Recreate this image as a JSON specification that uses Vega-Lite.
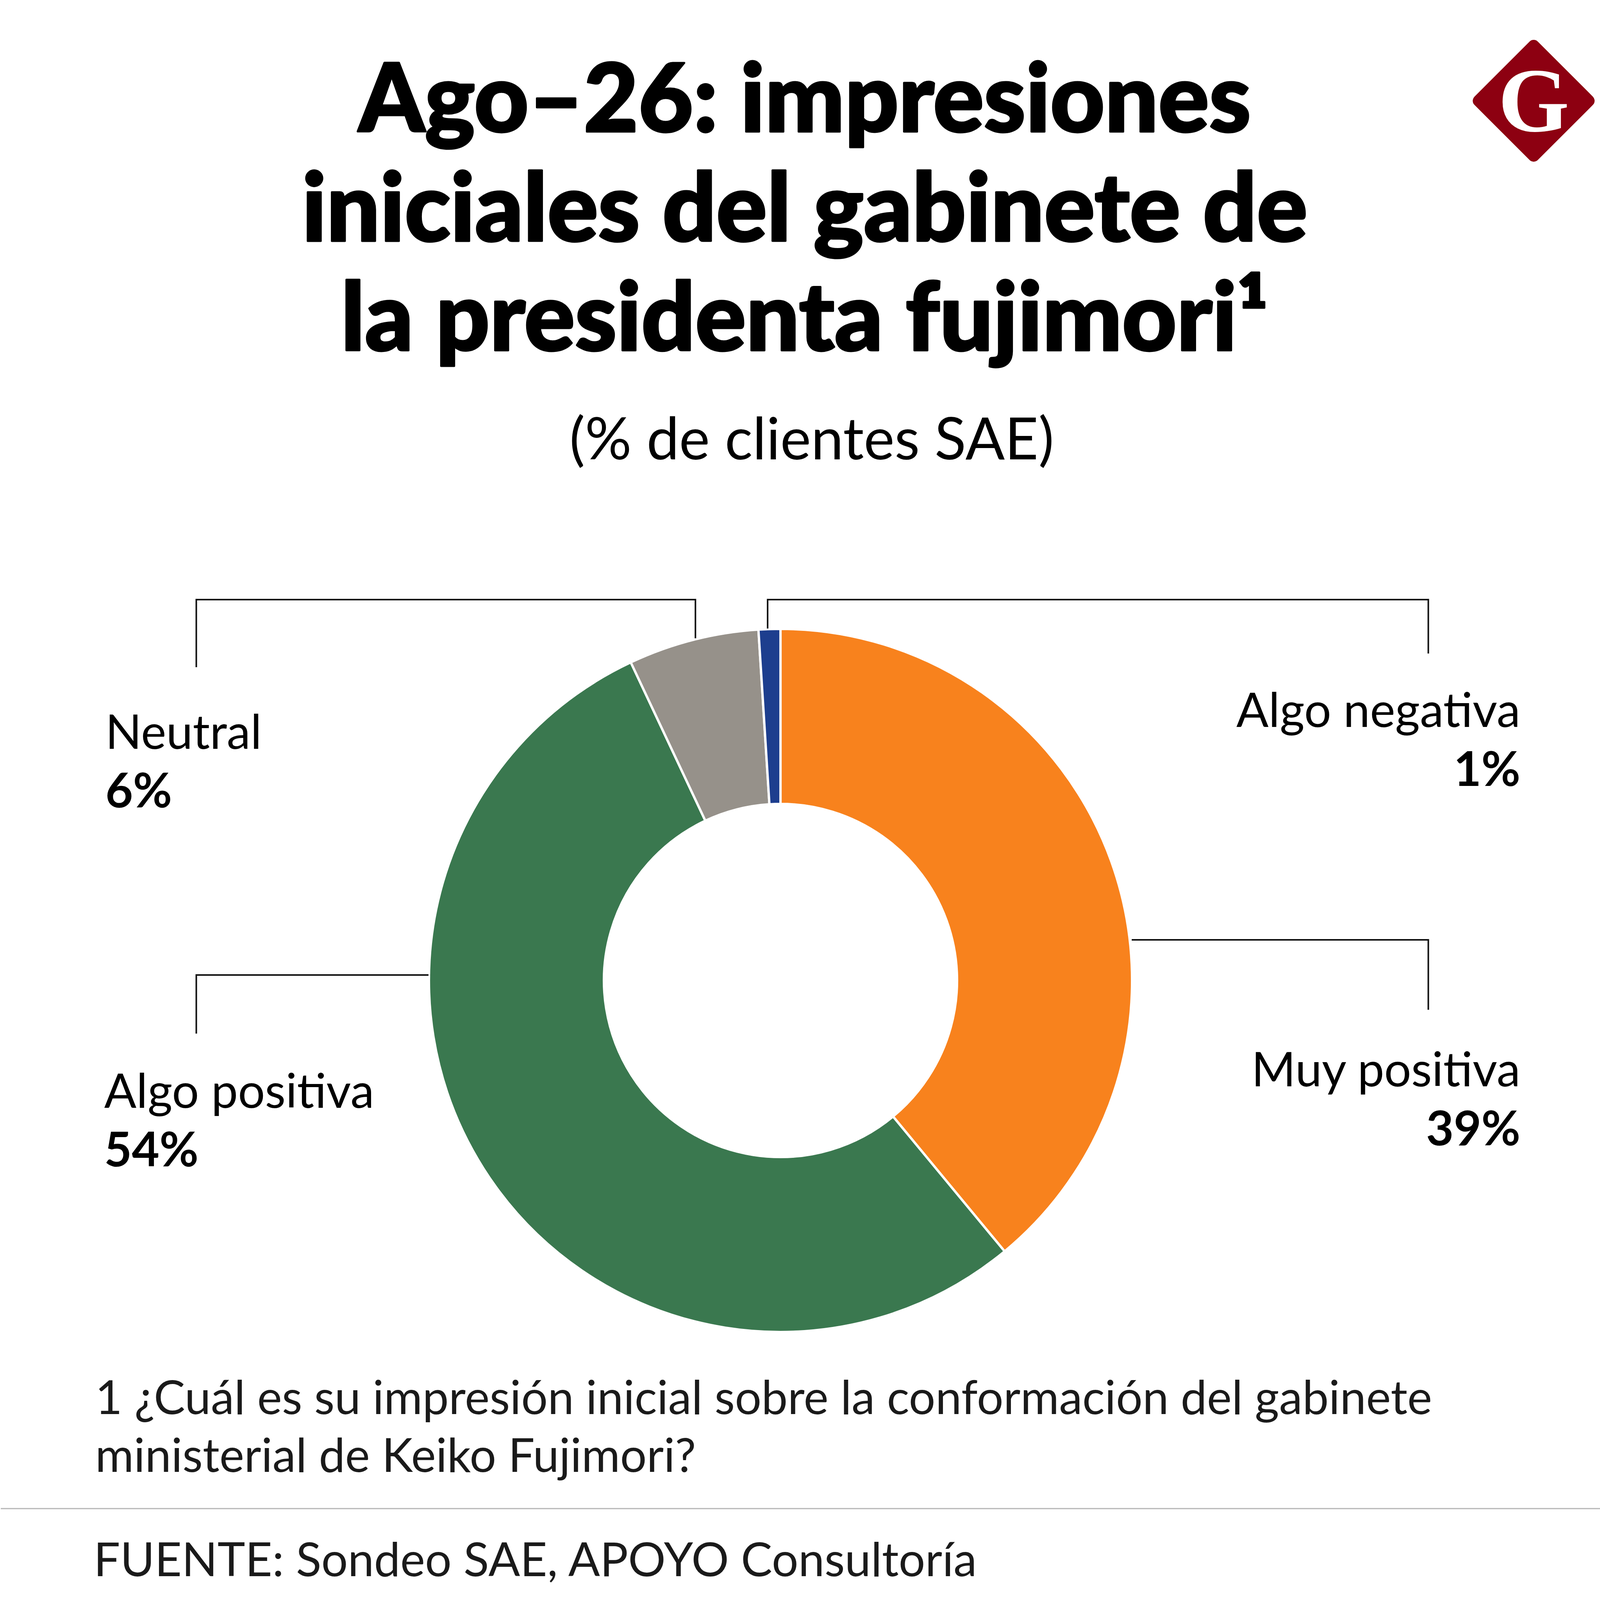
{
  "$schema": "https://vega.github.io/schema/vega-lite/v6.json",
  "width": 4150,
  "height": 4732,
  "padding": 0,
  "autosize": {"type": "fit", "contains": "padding"},
  "background": "white",
  "config": {"view": {"stroke": null}},
  "datasets": {
    "respuestas": [
      {"respuesta": "Muy positiva", "valor": 0.39, "orden": 1},
      {"respuesta": "Algo positiva", "valor": 0.54, "orden": 2},
      {"respuesta": "Neutral", "valor": 0.06, "orden": 3},
      {"respuesta": "Algo negativa", "valor": 0.01, "orden": 4}
    ],
    "etiquetas": [
      {"respuesta": "Neutral", "lado": "izquierda", "x": 268, "y": 1917},
      {"respuesta": "Algo positiva", "lado": "izquierda", "x": 265, "y": 2836},
      {"respuesta": "Algo negativa", "lado": "derecha", "x": 3894, "y": 1861},
      {"respuesta": "Muy positiva", "lado": "derecha", "x": 3894, "y": 2781}
    ],
    "guias": [
      {"respuesta": "Neutral", "paso": 1, "x": 501, "y": 1708},
      {"respuesta": "Neutral", "paso": 2, "x": 501, "y": 1535},
      {"respuesta": "Neutral", "paso": 3, "x": 1780, "y": 1535},
      {"respuesta": "Neutral", "paso": 4, "x": 1780, "y": 1634},
      {"respuesta": "Algo negativa", "paso": 1, "x": 1965, "y": 1609},
      {"respuesta": "Algo negativa", "paso": 2, "x": 1965, "y": 1535},
      {"respuesta": "Algo negativa", "paso": 3, "x": 3658, "y": 1535},
      {"respuesta": "Algo negativa", "paso": 4, "x": 3658, "y": 1673},
      {"respuesta": "Muy positiva", "paso": 1, "x": 2898, "y": 2406},
      {"respuesta": "Muy positiva", "paso": 2, "x": 3658, "y": 2406},
      {"respuesta": "Muy positiva", "paso": 3, "x": 3658, "y": 2585},
      {"respuesta": "Algo positiva", "paso": 1, "x": 1096, "y": 2496},
      {"respuesta": "Algo positiva", "paso": 2, "x": 501, "y": 2496},
      {"respuesta": "Algo positiva", "paso": 3, "x": 501, "y": 2646}
    ],
    "textos": [
      {"tipo": "titulo", "texto": "Ago–26: impresiones\niniciales del gabinete de\nla presidenta fujimori¹", "x": 2060, "y": 337},
      {"tipo": "subtitulo", "texto": "(% de clientes SAE)", "x": 2078, "y": 1176},
      {"tipo": "nota", "texto": "1 ¿Cuál es su impresión inicial sobre la conformación del gabinete\nministerial de Keiko Fujimori?", "x": 242, "y": 3620},
      {"tipo": "fuente", "texto": "FUENTE: Sondeo SAE, APOYO Consultoría", "x": 238, "y": 4035},
      {"tipo": "logo", "texto": "G", "x": 3928, "y": 258}
    ]
  },
  "layer": [
    {
      "data": {"name": "respuestas"},
      "mark": {"type": "arc", "innerRadius": 452, "outerRadius": 900, "stroke": "white", "strokeWidth": 6},
      "encoding": {
        "x": {"datum": 1998, "type": "quantitative", "scale": {"domain": [0, 4150], "nice": false, "zero": false}, "axis": null},
        "y": {"datum": 2510, "type": "quantitative", "scale": {"domain": [0, 4732], "nice": false, "zero": false, "reverse": true}, "axis": null},
        "theta": {"field": "valor", "type": "quantitative", "stack": true},
        "order": {"field": "orden", "type": "quantitative"},
        "color": {
          "field": "respuesta",
          "type": "nominal",
          "scale": {"domain": ["Muy positiva", "Algo positiva", "Neutral", "Algo negativa"], "range": ["#f8821d", "#3a784f", "#96918a", "#1d3e8e"]},
          "legend": null
        }
      }
    },
    {
      "data": {"name": "guias"},
      "mark": {"type": "line", "color": "#111111", "strokeWidth": 4, "strokeJoin": "miter", "strokeCap": "butt"},
      "encoding": {
        "x": {"field": "x", "type": "quantitative", "scale": {"domain": [0, 4150], "nice": false, "zero": false}, "axis": null},
        "y": {"field": "y", "type": "quantitative", "scale": {"domain": [0, 4732], "nice": false, "zero": false, "reverse": true}, "axis": null},
        "detail": {"field": "respuesta"},
        "order": {"field": "paso", "type": "quantitative"}
      }
    },
    {
      "data": {"name": "etiquetas"},
      "transform": [
        {"lookup": "respuesta", "from": {"data": {"name": "respuestas"}, "key": "respuesta", "fields": ["valor"]}}
      ],
      "encoding": {
        "x": {"field": "x", "type": "quantitative", "scale": {"domain": [0, 4150], "nice": false, "zero": false}, "axis": null},
        "y": {"field": "y", "type": "quantitative", "scale": {"domain": [0, 4732], "nice": false, "zero": false, "reverse": true}, "axis": null}
      },
      "layer": [
        {
          "transform": [{"filter": "datum.lado === 'izquierda'"}],
          "mark": {"type": "text", "align": "left", "baseline": "alphabetic", "font": "Lato", "fontSize": 122, "color": "#000000"},
          "encoding": {"text": {"field": "respuesta"}}
        },
        {
          "transform": [{"filter": "datum.lado === 'izquierda'"}],
          "mark": {"type": "text", "align": "left", "baseline": "alphabetic", "font": "Lato", "fontSize": 122, "fontWeight": "bold", "dy": 150, "color": "#000000"},
          "encoding": {"text": {"field": "valor", "type": "quantitative", "format": ".0%"}}
        },
        {
          "transform": [{"filter": "datum.lado === 'derecha'"}],
          "mark": {"type": "text", "align": "right", "baseline": "alphabetic", "font": "Lato", "fontSize": 122, "color": "#000000"},
          "encoding": {"text": {"field": "respuesta"}}
        },
        {
          "transform": [{"filter": "datum.lado === 'derecha'"}],
          "mark": {"type": "text", "align": "right", "baseline": "alphabetic", "font": "Lato", "fontSize": 122, "fontWeight": "bold", "dy": 151, "color": "#000000"},
          "encoding": {"text": {"field": "valor", "type": "quantitative", "format": ".0%"}}
        }
      ]
    },
    {
      "data": {"name": "textos"},
      "encoding": {
        "x": {"field": "x", "type": "quantitative", "scale": {"domain": [0, 4150], "nice": false, "zero": false}, "axis": null},
        "y": {"field": "y", "type": "quantitative", "scale": {"domain": [0, 4732], "nice": false, "zero": false, "reverse": true}, "axis": null}
      },
      "layer": [
        {
          "transform": [{"filter": "datum.tipo === 'titulo'"}],
          "mark": {"type": "text", "align": "center", "baseline": "alphabetic", "font": "Lato", "fontSize": 242, "fontWeight": 900, "lineBreak": "\n", "lineHeight": 280, "color": "#000000", "stroke": "#000000", "strokeWidth": 5, "strokeJoin": "round"},
          "encoding": {"text": {"field": "texto"}}
        },
        {
          "transform": [{"filter": "datum.tipo === 'subtitulo'"}],
          "mark": {"type": "text", "align": "center", "baseline": "alphabetic", "font": "Lato", "fontSize": 149, "color": "#000000"},
          "encoding": {"text": {"field": "texto"}}
        },
        {
          "transform": [{"filter": "datum.tipo === 'nota' || datum.tipo === 'fuente'"}],
          "mark": {"type": "text", "align": "left", "baseline": "alphabetic", "font": "Lato", "fontSize": 120, "lineBreak": "\n", "lineHeight": 148, "color": "#1a1a1a"},
          "encoding": {"text": {"field": "texto"}}
        },
        {
          "transform": [{"filter": "datum.tipo === 'logo'"}],
          "mark": {"type": "point", "shape": "diamond", "size": 79524, "filled": true, "color": "#8d0011", "stroke": "#8d0011", "strokeWidth": 30, "strokeJoin": "round", "opacity": 1}
        },
        {
          "transform": [{"filter": "datum.tipo === 'logo'"}],
          "mark": {"type": "text", "align": "center", "baseline": "alphabetic", "dy": 78, "font": "Liberation Serif", "fontWeight": "bold", "fontSize": 234, "color": "white"},
          "encoding": {"text": {"field": "texto"}}
        }
      ]
    },
    {
      "data": {"values": [{"desde": 0, "hasta": 4150, "y": 3862}]},
      "mark": {"type": "rule", "color": "#b5b5b5", "strokeWidth": 3},
      "encoding": {
        "x": {"field": "desde", "type": "quantitative", "scale": {"domain": [0, 4150], "nice": false, "zero": false}, "axis": null},
        "x2": {"field": "hasta"},
        "y": {"field": "y", "type": "quantitative", "scale": {"domain": [0, 4732], "nice": false, "zero": false, "reverse": true}, "axis": null}
      }
    }
  ]
}
